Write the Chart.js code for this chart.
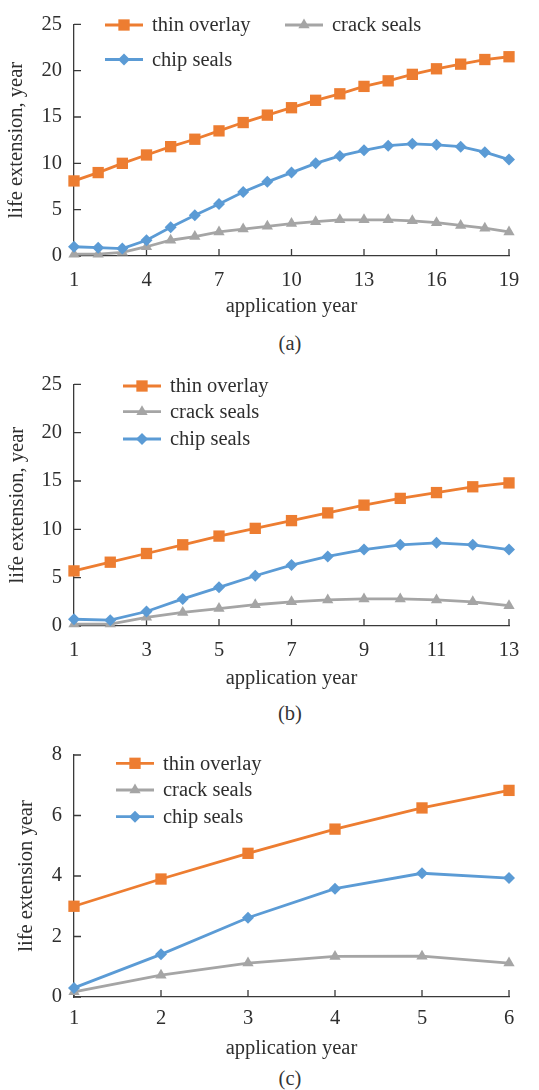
<!DOCTYPE html>
<html>
<head>
<meta charset="utf-8">
<title>life extension vs application year</title>
<script src="https://cdn.jsdelivr.net/npm/chart.js@4.4.0/dist/chart.umd.min.js"></script>
<style>
  html, body { margin: 0; padding: 0; background: #fff; }
  body {
    width: 539px; height: 1090px; position: relative; overflow: hidden;
    font-family: "Liberation Serif", "Times New Roman", serif; color: #333;
  }
  canvas { position: absolute; left: 0; }
  .caption {
    position: absolute; left: 240px; width: 100px; text-align: center;
    font-size: 20.5px; line-height: 20.5px; color: #333;
  }
</style>
</head>
<body>
<canvas id="chartA" width="539" height="319" style="top:0px"></canvas>
<canvas id="chartB" width="539" height="331" style="top:360px"></canvas>
<canvas id="chartC" width="539" height="331" style="top:730px"></canvas>
<div class="caption" style="top:333px">(a)</div>
<div class="caption" style="top:703px">(b)</div>
<div class="caption" style="top:1068px">(c)</div>

<script>
// ---- panel (a) ----
const yearsA = [1, 2, 3, 4, 5, 6, 7, 8, 9, 10, 11, 12, 13, 14, 15, 16, 17, 18, 19];
const thinOverlayA = [8.1, 9.0, 10.0, 10.9, 11.8, 12.6, 13.5, 14.4, 15.2, 16.0, 16.8, 17.5, 18.3, 18.9, 19.6, 20.2, 20.7, 21.2, 21.5];
const crackSealsA = [0.2, 0.2, 0.4, 1.0, 1.7, 2.1, 2.6, 2.9, 3.2, 3.5, 3.7, 3.9, 3.9, 3.9, 3.8, 3.6, 3.3, 3.0, 2.6];
const chipSealsA = [1.0, 0.9, 0.8, 1.7, 3.1, 4.4, 5.6, 6.9, 8.0, 9.0, 10.0, 10.8, 11.4, 11.9, 12.1, 12.0, 11.8, 11.2, 10.4];
const xTicksA = [1, 4, 7, 10, 13, 16, 19];
const yTicksA = [0, 5, 10, 15, 20, 25];

// ---- panel (b) ----
const yearsB = [1, 2, 3, 4, 5, 6, 7, 8, 9, 10, 11, 12, 13];
const thinOverlayB = [5.7, 6.6, 7.5, 8.4, 9.3, 10.1, 10.9, 11.7, 12.5, 13.2, 13.8, 14.4, 14.8];
const crackSealsB = [0.2, 0.2, 0.9, 1.4, 1.8, 2.2, 2.5, 2.7, 2.8, 2.8, 2.7, 2.5, 2.1];
const chipSealsB = [0.7, 0.6, 1.5, 2.8, 4.0, 5.2, 6.3, 7.2, 7.9, 8.4, 8.6, 8.4, 7.9];
const xTicksB = [1, 3, 5, 7, 9, 11, 13];
const yTicksB = [0, 5, 10, 15, 20, 25];

// ---- panel (c) ----
const yearsC = [1, 2, 3, 4, 5, 6];
const thinOverlayC = [3.0, 3.9, 4.75, 5.55, 6.25, 6.83];
const crackSealsC = [0.17, 0.72, 1.12, 1.34, 1.35, 1.12];
const chipSealsC = [0.3, 1.41, 2.62, 3.58, 4.09, 3.93];
const xTicksC = [1, 2, 3, 4, 5, 6];
const yTicksC = [0, 2, 4, 6, 8];

const seriesNames = ['thin overlay', 'crack seals', 'chip seals'];

const ORANGE = '#ED7D31';
const GRAY = '#A5A5A5';
const BLUE = '#5B9BD5';
const AXIS = '#3a3a3a';
const TEXT = '#2e2e2e';
const FONT = '"Liberation Serif", "Times New Roman", serif';

// inward tick marks + legend drawn at fixed spots inside the plot
const paperPlugin = {
  id: 'paper',
  beforeDatasetsDraw(chart) {
    const ctx = chart.ctx;
    const xs = chart.scales.x, ys = chart.scales.y;
    const len = 7;
    ctx.save();
    ctx.strokeStyle = AXIS;
    ctx.lineWidth = 1.3;
    ctx.beginPath();
    xs.ticks.forEach(t => {
      const px = xs.getPixelForValue(t.value);
      ctx.moveTo(px, ys.bottom);
      ctx.lineTo(px, ys.bottom - len);
    });
    ys.ticks.forEach(t => {
      const py = ys.getPixelForValue(t.value);
      ctx.moveTo(xs.left, py);
      ctx.lineTo(xs.left + len, py);
    });
    ctx.stroke();
    ctx.restore();
  },
  afterDraw(chart, args, opts) {
    const ctx = chart.ctx;
    ctx.save();
    chart.data.datasets.forEach((ds, i) => {
      const spot = opts.items[i];
      ctx.strokeStyle = ds.borderColor;
      ctx.fillStyle = ds.backgroundColor;
      ctx.lineWidth = ds.borderWidth;
      ctx.beginPath();
      ctx.moveTo(spot.x, spot.y);
      ctx.lineTo(spot.x + 38, spot.y);
      ctx.stroke();
      Chart.helpers.drawPoint(ctx, {
        pointStyle: ds.pointStyle, radius: ds.pointRadius, borderWidth: 0, rotation: 0
      }, spot.x + 19, spot.y);
      ctx.fillStyle = TEXT;
      ctx.font = '20.5px ' + FONT;
      ctx.textBaseline = 'middle';
      ctx.textAlign = 'left';
      ctx.fillText(ds.label, spot.x + 47, spot.y + 1);
    });
    ctx.restore();
  }
};

function pairs(xs, ys) {
  return xs.map((x, i) => ({ x: x, y: ys[i] }));
}

function makeChart(id, p) {
  const sets = [
    { label: seriesNames[0], data: pairs(p.years, p.thin), borderColor: ORANGE, backgroundColor: ORANGE, pointStyle: 'rect', pointRadius: 8 },
    { label: seriesNames[1], data: pairs(p.years, p.crack), borderColor: GRAY, backgroundColor: GRAY, pointStyle: 'triangle', pointRadius: 6.5 },
    { label: seriesNames[2], data: pairs(p.years, p.chip), borderColor: BLUE, backgroundColor: BLUE, pointStyle: 'rectRot', pointRadius: 6 }
  ];
  sets.forEach(s => {
    s.borderWidth = 2.8;
    s.pointBorderWidth = 0;
    s.pointHoverRadius = s.pointRadius;
    s.tension = 0;
    s.clip = false;
  });
  // gray underneath, orange on top
  sets[1].order = 3; sets[2].order = 2; sets[0].order = 1;

  return new Chart(document.getElementById(id), {
    type: 'line',
    data: { datasets: sets },
    plugins: [paperPlugin],
    options: {
      responsive: false,
      animation: false,
      events: [],
      layout: { padding: { top: p.top, right: 30, left: 0, bottom: 0 } },
      plugins: {
        legend: { display: false },
        tooltip: { enabled: false },
        paper: { items: p.legend }
      },
      scales: {
        x: {
          type: 'linear',
          min: p.years[0],
          max: p.years[p.years.length - 1],
          afterBuildTicks: s => { s.ticks = p.xTicks.map(v => ({ value: v })); },
          afterFit: s => { s.height = p.xHeight; },
          grid: { drawOnChartArea: false, drawTicks: false },
          border: { display: true, color: AXIS, width: 1.3 },
          ticks: {
            color: TEXT, padding: p.xPad, maxRotation: 0, autoSkip: false,
            font: { family: FONT, size: 20.5 }
          },
          title: {
            display: true, text: 'application year', color: TEXT,
            padding: { top: 0, bottom: 0 },
            font: { family: FONT, size: 20.5 }
          }
        },
        y: {
          min: p.yTicks[0],
          max: p.yTicks[p.yTicks.length - 1],
          afterBuildTicks: s => { s.ticks = p.yTicks.map(v => ({ value: v })); },
          afterFit: s => { s.width = 74; },
          grid: { drawOnChartArea: false, drawTicks: false },
          border: { display: true, color: AXIS, width: 1.3 },
          ticks: {
            color: TEXT, padding: 12,
            font: { family: FONT, size: 20.5 }
          },
          title: {
            display: true, text: p.yTitle, color: TEXT,
            padding: { top: p.yTitlePad, bottom: 0 },
            font: { family: FONT, size: 20.5 }
          }
        }
      }
    }
  });
}

function drawAll() {
  makeChart('chartA', {
    years: yearsA, thin: thinOverlayA, crack: crackSealsA, chip: chipSealsA,
    xTicks: xTicksA, yTicks: yTicksA,
    top: 15, xHeight: 63, xPad: 12, yTitle: 'life extension, year', yTitlePad: 4.7,
    legend: [{ x: 105, y: 25 }, { x: 285, y: 25 }, { x: 105, y: 59.5 }]
  });

  makeChart('chartB', {
    years: yearsB, thin: thinOverlayB, crack: crackSealsB, chip: chipSealsB,
    xTicks: xTicksB, yTicks: yTicksB,
    top: 24, xHeight: 65, xPad: 12.5, yTitle: 'life extension, year', yTitlePad: 4.9,
    legend: [{ x: 123, y: 26 }, { x: 123, y: 51.7 }, { x: 123, y: 79 }]
  });

  makeChart('chartC', {
    years: yearsC, thin: thinOverlayC, crack: crackSealsC, chip: chipSealsC,
    xTicks: xTicksC, yTicks: yTicksC,
    top: 25, xHeight: 64, xPad: 9.3, yTitle: 'life extension year', yTitlePad: 14.7,
    legend: [{ x: 116, y: 33.3 }, { x: 116, y: 60 }, { x: 116, y: 86.7 }]
  });
}

// make sure the serif face is ready before the canvases draw text
if (document.fonts && document.fonts.load) {
  document.fonts.load('20px "Liberation Serif"').then(drawAll, drawAll);
} else {
  drawAll();
}
</script>
</body>
</html>
